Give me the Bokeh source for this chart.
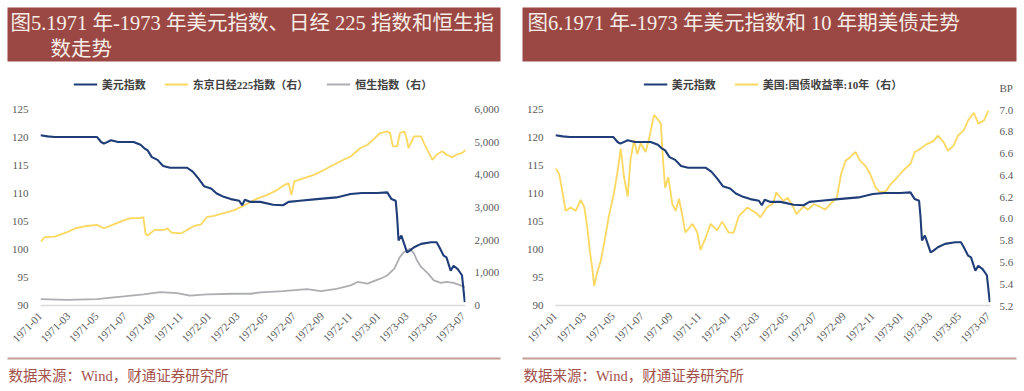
from bokeh.plotting import figure
from bokeh.models import (Range1d, LinearAxis, FixedTicker, NumeralTickFormatter, Legend,
                          LegendItem, Label, BoxAnnotation, ColumnDataSource)
from bokeh.layouts import row
from bokeh.embed import file_html
from bokeh.resources import INLINE
import math

# ---------------- data ----------------
tick_months = [0, 2, 4, 6, 8, 10, 12, 14, 16, 18, 20, 22, 24, 26, 28, 30]
tick_labels = ["1971-01", "1971-03", "1971-05", "1971-07", "1971-09", "1971-11",
               "1972-01", "1972-03", "1972-05", "1972-07", "1972-09", "1972-11",
               "1973-01", "1973-03", "1973-05", "1973-07"]
left_ticks = [90, 95, 100, 105, 110, 115, 120, 125]
stock_ticks = [0, 1000, 2000, 3000, 4000, 5000, 6000]
yield_ticks = [5.2, 5.4, 5.6, 5.8, 6.0, 6.2, 6.4, 6.6, 6.8, 7.0]

# months since 1971-01
usd_m = [0, 0.5, 1.0, 2.0, 3.0, 4.0, 4.3, 4.5, 5.0, 5.5, 6.6, 7.1, 7.4, 7.6, 7.9, 8.3, 8.7, 9.2,
         10.4, 10.8, 11.2, 11.6, 12.1, 12.5, 13.0, 13.5, 14.1, 14.3, 14.5, 14.9, 15.6, 16.5,
         17.2, 17.6, 18.4, 19.6, 21.0, 22.0, 22.8, 23.9, 24.6, 24.9, 25.2, 25.3, 25.4, 25.6,
         25.8, 26.0, 26.2, 26.5, 27.0, 27.7, 28.1, 28.3, 28.6, 28.8, 29.1, 29.3, 29.6, 29.9, 30.1]
usd_v = [120.4, 120.2, 120.1, 120.1, 120.1, 120.1, 119.2, 118.9, 119.5, 119.2, 119.2, 118.7,
         118.0, 117.7, 116.5, 116.0, 114.9, 114.6, 114.6, 113.9, 112.7, 111.3, 110.9, 110.0,
         109.4, 109.0, 108.7, 107.9, 108.9, 108.5, 108.5, 108.0, 107.9, 108.5, 108.7, 109.0,
         109.3, 109.9, 110.1, 110.1, 110.2, 109.0, 108.7, 105.8, 101.6, 102.5, 101.0, 99.5,
         99.8, 100.4, 101.0, 101.3, 101.3, 100.4, 98.9, 98.6, 96.2, 97.1, 96.5, 95.4, 90.6]

nk_m = [0, 0.3, 1.0, 1.8, 2.5, 3.3, 4.0, 4.5, 5.2, 5.9, 6.4, 7.1, 7.3, 7.45, 7.6, 8.1, 8.8, 9.0,
        9.3, 10.0, 10.4, 10.9, 11.4, 11.8, 12.3, 13.0, 13.7, 14.4, 14.9, 15.4, 16.1, 16.8, 17.3,
        17.6, 17.8, 18.0, 18.7, 19.4, 20.1, 20.8, 21.5, 22.0, 22.7, 23.2, 23.6, 24.1, 24.6, 24.8,
        25.0, 25.3, 25.5, 25.8, 26.0, 26.1, 26.5, 27.0, 27.2, 27.5, 27.8, 28.1, 28.5, 28.8, 29.2,
        29.5, 29.9, 30.2]
nk_v = [1954, 2091, 2108, 2228, 2365, 2434, 2468, 2365, 2485, 2605, 2674, 2674, 2708, 2194, 2143,
        2314, 2314, 2365, 2228, 2211, 2314, 2434, 2485, 2708, 2742, 2828, 2914, 3051, 3171, 3280,
        3385, 3540, 3690, 3740, 3385, 3800, 3900, 4000, 4150, 4310, 4460, 4560, 4820, 4920, 5080,
        5280, 5330, 5280, 4870, 4870, 5280, 5330, 5080, 4820, 5180, 5180, 4970, 4720, 4460, 4615,
        4720, 4615, 4540, 4615, 4670, 4770]

hsi_m = [0, 1.9, 4.0, 5.9, 7.3, 8.5, 9.7, 10.6, 11.8, 13.7, 14.9, 15.6, 17.2, 18.9, 19.9, 21.0,
         22.0, 22.5, 23.2, 24.1, 24.6, 25.1, 25.5, 25.8, 26.2, 26.5, 26.7, 27.0, 27.5, 27.9, 28.4,
         28.8, 29.3, 29.8, 30.1]
hsi_v = [195, 175, 195, 277, 340, 410, 380, 300, 340, 360, 360, 400, 440, 500, 440, 510, 615, 720,
         670, 820, 920, 1130, 1490, 1640, 1740, 1590, 1385, 1180, 975, 770, 690, 720, 690, 615, 565]

ust_m = [0.0, 0.25, 0.5, 0.7, 1.05, 1.4, 1.75, 2.0, 2.2, 2.37, 2.56, 2.68, 2.9, 3.14, 3.37, 3.7,
         4.05, 4.3, 4.52, 4.75, 5.0, 5.2, 5.45, 5.67, 5.9, 6.25, 6.5, 6.83, 7.15, 7.3, 7.45, 7.6,
         7.82, 8.1, 8.33, 8.56, 8.8, 9.0, 9.5, 9.83, 10.05, 10.4, 10.75, 11.2, 11.55, 12.0, 12.35,
         12.7, 13.3, 13.9, 14.2, 14.65, 15.1, 15.3, 15.8, 16.1, 16.5, 16.7, 17.2, 17.5, 17.9, 18.3,
         18.7, 19.1, 19.5, 19.8, 20.1, 20.4, 20.8, 21.1, 21.5, 21.8, 22.2, 22.5, 22.9, 23.2, 23.7,
         24.1, 24.6, 24.9, 25.3, 25.7, 26.2, 26.5, 26.9, 27.2, 27.6, 27.9, 28.3, 28.6, 29.0, 29.3,
         29.7, 30.0]
ust_v = [6.46, 6.41, 6.23, 6.07, 6.10, 6.07, 6.17, 6.10, 5.92, 5.71, 5.53, 5.38, 5.51, 5.61, 5.77,
         6.02, 6.23, 6.43, 6.64, 6.38, 6.20, 6.54, 6.72, 6.59, 6.69, 6.61, 6.74, 6.95, 6.90, 6.87,
         6.54, 6.28, 6.38, 6.13, 6.07, 6.18, 6.02, 5.87, 5.95, 5.87, 5.71, 5.82, 5.95, 5.89, 5.97,
         5.87, 5.87, 6.02, 6.10, 6.05, 6.01, 6.10, 6.14, 6.24, 6.16, 6.19, 6.10, 6.04, 6.11, 6.08,
         6.13, 6.11, 6.08, 6.14, 6.19, 6.41, 6.53, 6.56, 6.61, 6.53, 6.48, 6.41, 6.28, 6.24, 6.25,
         6.31, 6.38, 6.44, 6.50, 6.61, 6.64, 6.68, 6.71, 6.76, 6.70, 6.62, 6.67, 6.76, 6.81, 6.90,
         6.97, 6.87, 6.90, 6.99]

title_left = ["图5.1971 年-1973 年美元指数、日经 225 指数和恒生指", "数走势"]
title_right = "图6.1971 年-1973 年美元指数和 10 年期美债走势"
source_text = "数据来源：Wind，财通证券研究所"
unit_label = "BP"

# ---------------- style ----------------
W = 512
BAR = "#9b4845"
TITLE_TXT = "#f6ede6"
SRC_TXT = "#a3514b"
SEP = "#c49d97"
BLUE = "#1f3d78"
YELLOW = "#fbd85f"
GRAY = "#adaeb1"
TICK = "#595959"
FONT = "Liberation Serif, Noto Sans CJK SC"

# value ranges (the frame also holds the legend strip above the 125 level)
L_LO, L_HI, L_TOP = 90, 125, 131.25


def right_top(lo, hi):
    return lo + (hi - lo) * (L_TOP - L_LO) / (L_HI - L_LO)


def bare(height):
    f = figure(width=W, height=height, x_range=Range1d(0, W), y_range=Range1d(0, height),
               output_backend="svg", toolbar_location=None, min_border=0,
               x_axis_location=None, y_axis_location=None)
    f.outline_line_color = None
    f.grid.visible = False
    f.border_fill_color = "white"
    return f


def title_fig(lines, bar_left, bar_right):
    t = bare(66)
    t.add_layout(BoxAnnotation(left=bar_left, right=bar_right, bottom=5, top=59,
                               fill_color=BAR, fill_alpha=1, line_color=None))
    for (x, y, txt) in lines:
        t.add_layout(Label(x=x, y=y, text=txt, text_font=FONT, text_font_size="20.5px",
                           text_color=TITLE_TXT, text_baseline="middle"))
    return t


def source_fig(line_left, line_right, text_x):
    s = bare(43)
    s.add_layout(BoxAnnotation(left=line_left, right=line_right, bottom=32, top=34,
                               fill_color=SEP, fill_alpha=1, line_color=None))
    s.add_layout(Label(x=text_x, y=16, text=source_text, text_font=FONT, text_font_size="14.5px",
                       text_color=SRC_TXT, text_baseline="middle"))
    return s


def chart_fig(mbl, mbr, rlo, rhi, rticks, rfmt, roverrides=None):
    p = figure(width=W, height=282, x_range=Range1d(0, 30.15), y_range=Range1d(L_LO, L_TOP),
               output_backend="svg", toolbar_location=None,
               min_border_left=mbl, min_border_right=mbr, min_border_top=8, min_border_bottom=43)
    p.outline_line_color = None
    p.xgrid.visible = False
    p.ygrid.visible = False
    p.border_fill_color = "white"
    p.extra_y_ranges = {"r": Range1d(rlo, right_top(rlo, rhi))}

    xa = p.xaxis[0]
    xa.ticker = FixedTicker(ticks=tick_months)
    xa.major_label_overrides = {m: lab for m, lab in zip(tick_months, tick_labels)}
    xa.major_label_orientation = math.pi / 4
    xa.axis_line_color = "#d9d9d9"
    xa.axis_line_width = 1.5
    xa.major_label_standoff = 9

    ya = p.yaxis[0]
    ya.ticker = FixedTicker(ticks=left_ticks)
    ya.axis_line_color = None
    ya.major_label_standoff = 12

    ra = LinearAxis(y_range_name="r", ticker=FixedTicker(ticks=rticks),
                    formatter=NumeralTickFormatter(format=rfmt))
    if roverrides:
        ra.major_label_overrides = roverrides
    ra.axis_line_color = None
    ra.major_label_standoff = 9
    p.add_layout(ra, "right")

    for ax in (xa, ya, ra):
        ax.major_tick_line_color = None
        ax.minor_tick_line_color = None
        ax.major_tick_out = 0
        ax.major_tick_in = 0
        ax.minor_tick_out = 0
        ax.major_label_text_font = FONT
        ax.major_label_text_font_size = "11px"
        ax.major_label_text_color = TICK
    return p


def make_legend(items):
    return Legend(items=items, orientation="horizontal", location="top_center",
                  glyph_width=24, glyph_height=12, label_height=12, label_standoff=5,
                  spacing=18, padding=0, margin=2, border_line_color=None,
                  background_fill_alpha=0, label_text_font=FONT, label_text_font_size="11px",
                  label_text_font_style="bold", label_text_color="#404040")


# ---------------- left panel ----------------
pl = chart_fig(40, 47, 0, 6000, stock_ticks, "0,0")
r_nk = pl.line(x="m", y="v", source=ColumnDataSource(dict(m=nk_m, v=nk_v)), y_range_name="r",
               line_color=YELLOW, line_width=1.8)
r_hsi = pl.line(x="m", y="v", source=ColumnDataSource(dict(m=hsi_m, v=hsi_v)), y_range_name="r",
                line_color=GRAY, line_width=1.8)
r_usd_l = pl.line(x="m", y="v", source=ColumnDataSource(dict(m=usd_m, v=usd_v)),
                  line_color=BLUE, line_width=2.1)
pl.add_layout(make_legend([LegendItem(label="美元指数", renderers=[r_usd_l]),
                           LegendItem(label="东京日经225指数（右）", renderers=[r_nk]),
                           LegendItem(label="恒生指数（右）", renderers=[r_hsi])]))

tl = title_fig([(10, 44, title_left[0]), (50, 18, title_left[1])], 7, 500)
sl = source_fig(7, 500, 8)

# ---------------- right panel ----------------
bp_pos = 7.1929  # the unit caption sits on the right axis just above 7.0
pr = chart_fig(43, 34, 5.2, 7.0, yield_ticks + [bp_pos], "0.0", {bp_pos: unit_label})
r_ust = pr.line(x="m", y="v", source=ColumnDataSource(dict(m=ust_m, v=ust_v)), y_range_name="r",
                line_color=YELLOW, line_width=1.8)
r_usd_r = pr.line(x="m", y="v", source=ColumnDataSource(dict(m=usd_m, v=usd_v)),
                  line_color=BLUE, line_width=2.1)
pr.add_layout(make_legend([LegendItem(label="美元指数", renderers=[r_usd_r]),
                           LegendItem(label="美国:国债收益率:10年（右）", renderers=[r_ust])]))

tr = title_fig([(15, 44, title_right)], 10, 504)
sr = source_fig(10, 504, 11)

roots = [row(tl, tr), row(pl, pr), row(sl, sr)]
open("out.html", "w").write(file_html(roots, INLINE))
